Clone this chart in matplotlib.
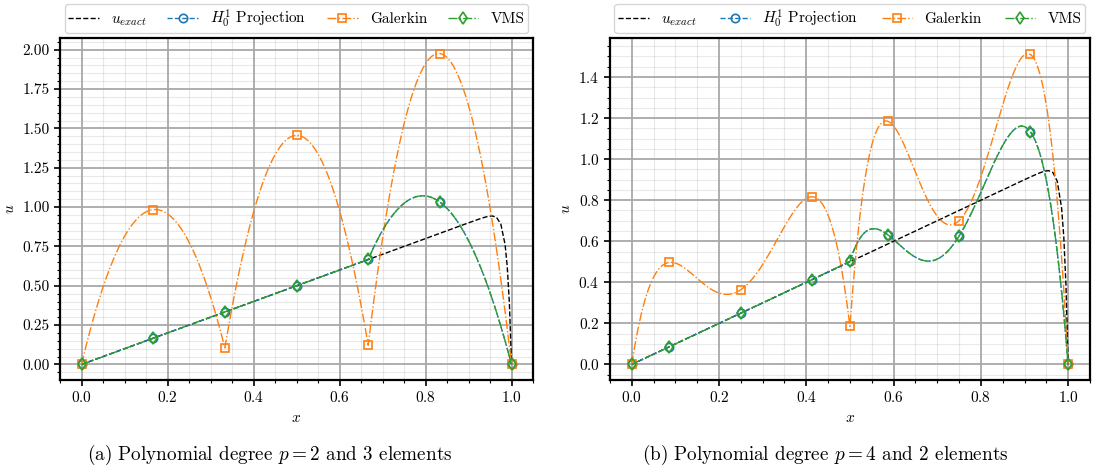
import numpy as np
import matplotlib
matplotlib.use("Agg")
import matplotlib.pyplot as plt
from matplotlib.ticker import AutoMinorLocator, FormatStrFormatter

plt.rcParams["font.family"] = "serif"
plt.rcParams["font.serif"] = ["cmr10"]
plt.rcParams["mathtext.fontset"] = "cm"
plt.rcParams["axes.formatter.use_mathtext"] = True
plt.rcParams["axes.unicode_minus"] = False
plt.rcParams["font.size"] = 11

# exact solution (boundary layer at x = 1), sampled
x_exact = [0.0, 0.90, 0.93, 0.945, 0.955, 0.965, 0.975, 0.985, 0.99, 0.995, 1.0]
u_exact = [0.0, 0.90, 0.929, 0.941, 0.944, 0.935, 0.893, 0.762, 0.622, 0.388, 0.0]

# (a) p = 2, 3 elements: nodal values
p_a = 2
nodes_a = [0.0, 1/6, 1/3, 0.5, 2/3, 5/6, 1.0]
proj_a = [0.0, 0.167, 0.333, 0.5, 0.667, 1.032, 0.0]
galerkin_a = [0.0, 0.984, 0.105, 1.456, 0.122, 1.976, 0.0]
vms_a = [0.0, 0.167, 0.333, 0.5, 0.667, 1.032, 0.0]

# (b) p = 4, 2 elements: nodal values at GLL points
p_b = 4
nodes_b = [0.0, 0.0864, 0.25, 0.4136, 0.5, 0.5864, 0.75, 0.9136, 1.0]
proj_b = [0.0, 0.0864, 0.25, 0.4136, 0.502, 0.632, 0.625, 1.133, 0.0]
galerkin_b = [0.0, 0.497, 0.364, 0.817, 0.186, 1.185, 0.70, 1.51, 0.0]
vms_b = [0.0, 0.0864, 0.25, 0.4136, 0.502, 0.632, 0.625, 1.133, 0.0]

captions = ["(a) Polynomial degree $p = 2$ and 3 elements",
            "(b) Polynomial degree $p = 4$ and 2 elements"]


def fe_curve(nodes, vals, p, n_sub=25):
    """Evaluate the piecewise polynomial defined by nodal values."""
    nodes = np.asarray(nodes)
    vals = np.asarray(vals)
    xs, ys, marks = [], [], []
    n_el = (len(nodes) - 1) // p
    for e in range(n_el):
        xn = nodes[e * p:(e + 1) * p + 1]
        un = vals[e * p:(e + 1) * p + 1]
        coef = np.polyfit(xn, un, p)
        for k in range(p):
            seg = np.linspace(xn[k], xn[k + 1], n_sub, endpoint=False)
            marks.append(len(xs))
            xs.extend(seg)
            ys.extend(np.polyval(coef, seg))
    marks.append(len(xs))
    xs.append(nodes[-1])
    ys.append(vals[-1])
    return np.array(xs), np.array(ys), marks


fig = plt.figure(figsize=(10.95, 4.7), dpi=100)
ax_a = fig.add_axes([0.0548, 0.1915, 0.432, 0.7277])
ax_b = fig.add_axes([0.557, 0.1915, 0.4384, 0.7277])

panels = [
    (ax_a, nodes_a, proj_a, galerkin_a, vms_a, p_a),
    (ax_b, nodes_b, proj_b, galerkin_b, vms_b, p_b),
]

for i, (ax, nodes, proj, gal, vms, p) in enumerate(panels):
    ax.plot(x_exact, u_exact, "--", color="black", lw=1.0, label="$u_{exact}$")
    x, y, m = fe_curve(nodes, proj, p)
    ax.plot(x, y, "--", color="tab:blue", lw=1.0, marker="o", ms=6,
            mfc="none", mew=1.2, markevery=m, label="$H^1_0$ Projection")
    x, y, m = fe_curve(nodes, gal, p)
    ax.plot(x, y, "-.", color="tab:orange", lw=1.0, marker="s", ms=6,
            mfc="none", mew=1.2, markevery=m, label="Galerkin")
    x, y, m = fe_curve(nodes, vms, p)
    ax.plot(x, y, "-.", color="tab:green", lw=1.0, marker="d", ms=6,
            mfc="none", mew=1.2, markevery=m, label="VMS")

    ax.xaxis.set_minor_locator(AutoMinorLocator())
    ax.yaxis.set_minor_locator(AutoMinorLocator())
    ax.grid(which="major", color="#a8a8a8", lw=1.3)
    ax.grid(which="minor", color="#a8a8a8", alpha=0.25, lw=0.8)
    ax.set_axisbelow(True)
    for s in ax.spines.values():
        s.set_linewidth(1.6)
    ax.tick_params(which="major", length=4, width=1.2)
    ax.tick_params(which="minor", length=2, width=0.8)
    ax.set_xlabel("$x$")
    ax.set_ylabel("$u$")
    ax.legend(loc="lower left", bbox_to_anchor=(0.0, 1.0, 1.0, 0.1),
              mode="expand", ncol=4, handlelength=2.0, handletextpad=0.8,
              borderpad=0.25, borderaxespad=0.3, fancybox=True)

# sub-captions below each panel
fig.text(0.2466, 0.032, captions[0], ha="center", va="center", fontsize=13.8)
fig.text(0.7534, 0.032, captions[1], ha="center", va="center", fontsize=13.8)

ax_a.set_yticks(np.arange(0, 2.01, 0.25))
ax_a.yaxis.set_major_formatter(FormatStrFormatter("%.2f"))

fig.savefig("out.png", dpi=100)
